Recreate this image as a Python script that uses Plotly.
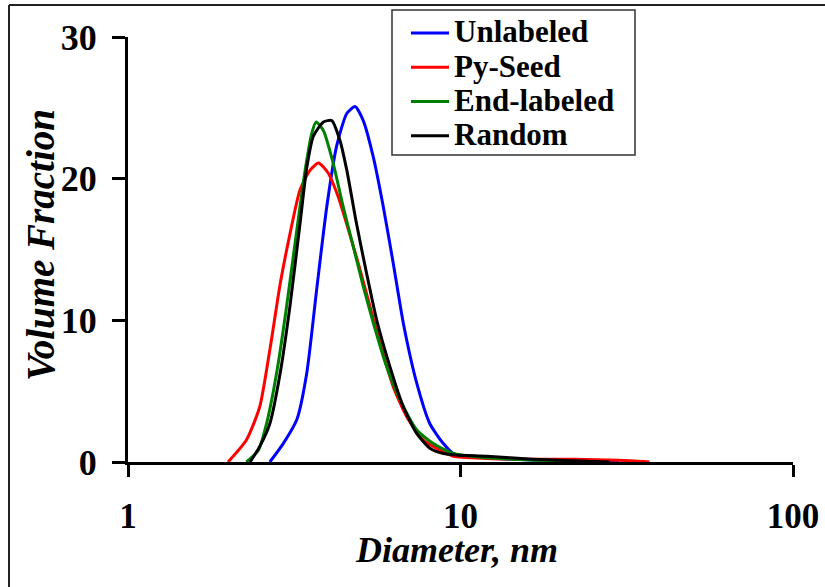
import plotly.graph_objects as go

# ---- data ----
unl_d = [2.67, 2.93, 3.22, 3.45, 3.69, 3.96, 4.24, 4.55, 4.82, 5.10, 5.47, 5.86, 6.28, 6.73, 7.39, 8.09, 8.88, 9.52, 11.0, 14.0, 20.0, 30.0]
unl_v = [0.0, 1.3, 3.0, 6.3, 12.1, 18.0, 22.3, 24.6, 25.1, 24.1, 21.5, 18.0, 14.0, 9.8, 5.55, 2.7, 1.3, 0.6, 0.35, 0.2, 0.08, 0.0]

py_d = [2.0, 2.27, 2.49, 2.67, 2.87, 3.07, 3.29, 3.53, 3.74, 4.0, 4.29, 4.60, 4.93, 5.34, 5.73, 6.28, 6.89, 7.73, 8.67, 9.52, 12.0, 16.0, 22.0, 30.0, 37.0]
py_v = [0.0, 1.55, 3.9, 7.9, 12.6, 16.1, 19.2, 20.6, 21.1, 20.4, 18.7, 16.4, 14.0, 11.0, 8.4, 5.3, 3.2, 1.55, 0.85, 0.4, 0.25, 0.2, 0.2, 0.12, 0.0]

end_d = [2.27, 2.47, 2.61, 2.80, 3.00, 3.22, 3.41, 3.57, 3.68, 3.87, 4.14, 4.44, 4.76, 5.10, 5.47, 6.00, 6.58, 7.39, 8.28, 9.52, 12.0, 16.0, 22.0]
end_v = [0.0, 0.85, 2.7, 6.3, 11.0, 16.4, 20.6, 23.2, 24.0, 23.4, 21.1, 18.0, 15.2, 12.4, 9.8, 6.7, 4.4, 2.26, 1.3, 0.6, 0.3, 0.15, 0.0]

rnd_d = [2.33, 2.49, 2.67, 2.87, 3.07, 3.29, 3.45, 3.61, 3.87, 4.10, 4.34, 4.55, 4.87, 5.22, 5.60, 6.14, 6.73, 7.39, 8.09, 8.88, 9.7, 12.0, 16.5, 22.0, 28.0]
rnd_v = [0.0, 1.1, 2.7, 6.3, 11.0, 16.8, 20.8, 23.0, 24.0, 24.1, 22.7, 20.6, 16.8, 13.3, 10.0, 6.7, 3.9, 2.0, 0.97, 0.6, 0.5, 0.4, 0.2, 0.08, 0.0]

series_names = ["Unlabeled", "Py-Seed", "End-labeled", "Random"]
series_colors = ["#0000FF", "#FF0000", "#008000", "#000000"]
x_tick_vals = [1, 10, 100]
x_tick_text = ["1", "10", "100"]
y_tick_vals = [0, 10, 20, 30]
x_title = "Diameter, nm"
y_title = "Volume Fraction"

FONT = "Liberation Serif, Times New Roman, serif"

fig = go.Figure()
for name, color, xs, ys in zip(series_names, series_colors,
                               [unl_d, py_d, end_d, rnd_d],
                               [unl_v, py_v, end_v, rnd_v]):
    fig.add_trace(go.Scatter(
        x=xs, y=ys, mode="lines",
        name='<span style="font-size:31px">' + name + '</span>',
        line=dict(color=color, width=3, shape="spline", smoothing=0.6)))

# plot area in pixels: x 128..793, y 37..462
L, R, T, B = 128, 32, 37, 125
W, H = 825, 587
pw, ph = W - L - R, H - T - B

def px(xp):
    return (xp - L) / pw

def py(yp):
    return (H - B - yp) / ph

fig.update_layout(
    width=W, height=H,
    margin=dict(l=L, r=R, t=T, b=B, autoexpand=False),
    paper_bgcolor="white", plot_bgcolor="white",
    font=dict(family=FONT, color="black"),
    showlegend=True,
    legend=dict(
        x=px(406), y=py(11), xanchor="left", yanchor="top",
        bgcolor="rgba(0,0,0,0)", borderwidth=0,
        font=dict(family=FONT, size=24, weight="bold", color="black"),
        tracegroupgap=0, itemwidth=38,
    ),
    xaxis=dict(
        type="log", range=[0, 2], tickvals=x_tick_vals, ticktext=x_tick_text,
        showline=True, linecolor="black", linewidth=3,
        ticks="outside", ticklen=12, tickwidth=3, tickcolor="black",
        showgrid=False, zeroline=False,
        tickfont=dict(family=FONT, size=35, weight="bold"),
        ticklabelstandoff=9,
    ),
    yaxis=dict(
        range=[0, 30], tickvals=y_tick_vals,
        showline=True, linecolor="black", linewidth=3,
        ticks="outside", ticklen=13, tickwidth=3, tickcolor="black",
        showgrid=False, zeroline=False,
        tickfont=dict(family=FONT, size=36, weight="bold"),
        ticklabelstandoff=8,
    ),
    annotations=[
        dict(text=x_title, xref="paper", yref="paper",
             x=px(456), y=py(550), xanchor="center", yanchor="middle",
             showarrow=False,
             font=dict(family=FONT, size=36, weight="bold", style="italic")),
        dict(text=y_title, xref="paper", yref="paper",
             x=px(40), y=py(245), xanchor="center", yanchor="middle",
             textangle=-90, showarrow=False,
             font=dict(family=FONT, size=39, weight="bold", style="italic")),
    ],
    shapes=[
        # outer frame (top and left edges visible)
        dict(type="line", xref="paper", yref="paper",
             x0=px(9), x1=px(830), y0=py(5), y1=py(5),
             line=dict(color="#222222", width=2)),
        dict(type="line", xref="paper", yref="paper",
             x0=px(9), x1=px(9), y0=py(5), y1=py(600),
             line=dict(color="#222222", width=2)),
        # legend box
        dict(type="rect", xref="paper", yref="paper",
             x0=px(392), x1=px(635), y0=py(155), y1=py(10),
             line=dict(color="#333333", width=1.5), fillcolor="rgba(0,0,0,0)"),
    ],
)

fig.write_html("out.html", config={"displayModeBar": False},
               post_script="document.body.style.margin='0';")
